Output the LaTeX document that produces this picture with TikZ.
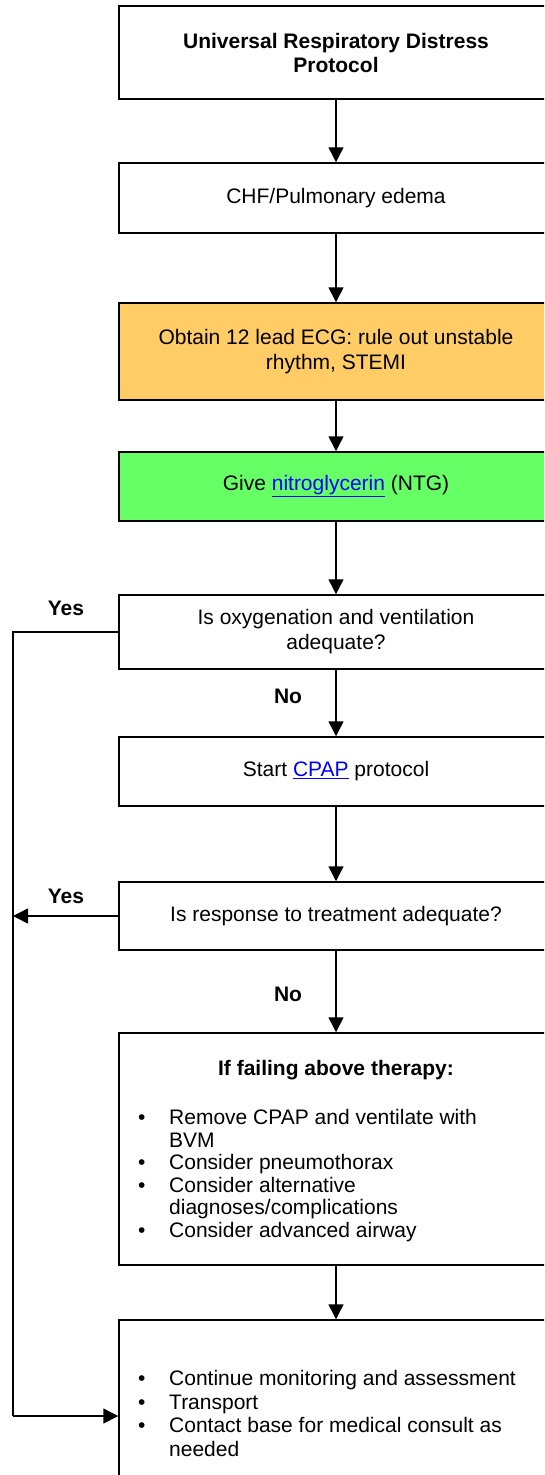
\documentclass[tikz,border=0pt]{standalone}
\usepackage{fontspec}
\setmainfont{Liberation Sans}
\usetikzlibrary{arrows.meta}
\definecolor{orangebox}{HTML}{FFCC66}
\definecolor{greenbox}{HTML}{66FF66}
\definecolor{linkblue}{HTML}{0000FF}
\newcommand{\lnk}[1]{\textcolor{linkblue}{\underline{#1}}}
\newcommand{\bul}{\makebox[31pt][l]{•}}
\begin{document}
\begin{tikzpicture}[x=1pt,y=-1pt,
  box/.style={draw, line width=1.5pt, minimum width=434pt, align=center,
              font=\fontsize{21}{25}\selectfont, inner sep=0pt},
  txt/.style={align=left, font=\fontsize{21}{22.6}\selectfont, inner sep=0pt},
  arr/.style={line width=1.5pt, -{Triangle[length=15pt,width=15pt]}},
  ln/.style={line width=1.5pt},
  lbl/.style={font=\bfseries\fontsize{21}{25}\selectfont, inner sep=0pt}]
\useasboundingbox (0,0) rectangle (544,1475);
\clip (0,0) rectangle (544,1475);
\fill[white] (0,0) rectangle (544,1475);

\node[box, minimum height=93pt, font=\bfseries\fontsize{21}{24}\selectfont] (b1) at (336,52.5)
  {Universal Respiratory Distress\\Protocol};
\node[box, minimum height=70pt] (b2) at (336,198) {CHF/Pulmonary edema};
\node[box, minimum height=97pt, fill=orangebox] (b3) at (336,351.5)
  {Obtain 12 lead ECG: rule out unstable\\rhythm, STEMI};
\node[box, minimum height=69pt, fill=greenbox] (b4) at (336,486.5)
  {Give \lnk{nitroglycerin} (NTG)};
\node[box, minimum height=74pt] (b5) at (336,632)
  {Is oxygenation and ventilation\\adequate?};
\node[box, minimum height=69pt] (b6) at (336,771.5) {Start \lnk{CPAP} protocol};
\node[box, minimum height=68pt] (b7) at (336,916) {Is response to treatment adequate?};
\node[box, minimum height=232pt] (b8) at (336,1149) {};
\node[box, minimum height=170pt] (b9) at (336,1405) {};

\node[lbl] (t8) at (336,1070) {If failing above therapy:};
\node[txt, anchor=north west] (l8) at (138,1109)
  {\bul Remove CPAP and ventilate with\\
   \hspace*{31pt}BVM\\
   \bul Consider pneumothorax\\
   \bul Consider alternative\\
   \hspace*{31pt}diagnoses/complications\\
   \bul Consider advanced airway};
\node[txt, anchor=north west, font=\fontsize{21}{23.7}\selectfont] (l9) at (138,1370)
  {\bul Continue monitoring and assessment\\
   \bul Transport\\
   \bul Contact base for medical consult as\\
   \hspace*{31pt}needed};

\draw[arr] (b1.south) -- (b2.north);
\draw[arr] (b2.south) -- (b3.north);
\draw[arr] (b3.south) -- (b4.north);
\draw[arr] (b4.south) -- (b5.north);
\draw[arr] (b5.south) -- (b6.north);
\draw[arr] (b6.south) -- (b7.north);
\draw[arr] (b7.south) -- (b8.north);
\draw[arr] (b8.south) -- (b9.north);

\coordinate (c1) at (13,632);
\coordinate (c2) at (13,1416);
\draw[ln] (b5.west) -- (c1) -- (c2);
\draw[arr] (c2) -- (b9.west |- c2);
\draw[arr] (b7.west) -- (b7.west -| c1);

\node[lbl] (y1) at (66,608) {Yes};
\node[lbl] (y2) at (66,896) {Yes};
\node[lbl] (n1) at (288,696) {No};
\node[lbl] (n2) at (288,994) {No};
\end{tikzpicture}
\end{document}
